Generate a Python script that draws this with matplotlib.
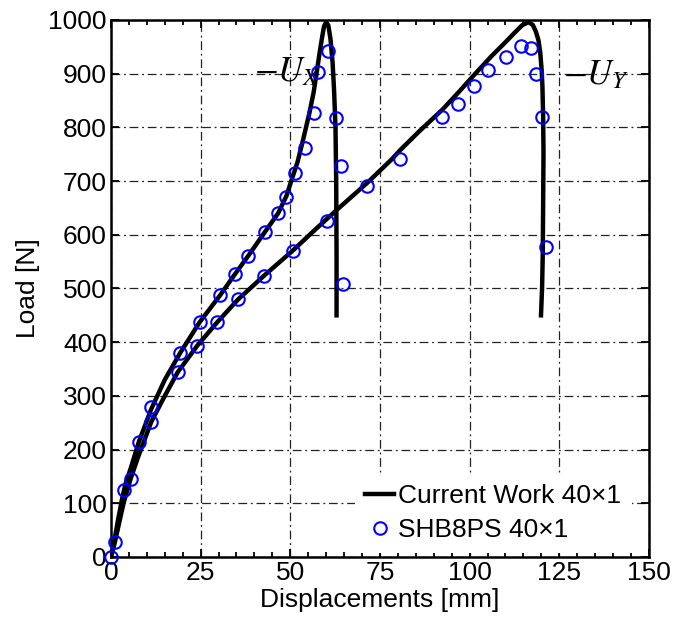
import numpy as np
import matplotlib
matplotlib.use("Agg")
import matplotlib.pyplot as plt
from matplotlib.ticker import MultipleLocator

plt.rcParams['font.family'] = ['Liberation Sans', 'DejaVu Sans']
plt.rcParams['mathtext.fontset'] = 'stix'

# current work, curve towards U_X
ux_disp = [0, 0.5, 1, 2, 3, 4, 5.5, 7.8, 11.2, 15, 19.3, 24.7, 30.5, 34.6, 38.3, 42.9,
           46.6, 48.9, 50.5, 52, 53.5, 55.3, 56.5, 57.4, 58.2, 58.8, 59.4, 60, 60.6,
           61.2, 61.8, 62.2, 62.6, 62.8, 62.9, 62.9]
ux_load = [0, 18, 32, 70, 105, 135, 165, 215, 275, 330, 380, 437, 488, 527, 561, 605,
           640, 672, 705, 735, 775, 826, 865, 904, 940, 965, 988, 996, 990,
           965, 920, 870, 800, 700, 560, 450]

# current work, curve towards U_Y
uy_disp = [0, 1, 2, 3.5, 5.5, 7.5, 11.2, 15, 18.6, 24, 29.6, 35.5, 42.7, 50.6, 57, 62.9,
           71.5, 78.2, 80.7, 86, 92.4, 97, 101.3, 106, 110.2, 112.5, 114.6, 116.4, 117.6,
           118.5, 119.2, 119.7, 120.1, 120.3, 120.5, 120.6, 120.5, 120.4, 120.2, 119.9]
uy_load = [0, 25, 55, 100, 146, 185, 251, 300, 344, 393, 437, 480, 524, 570, 610, 646,
           697, 740, 758, 793, 833, 866, 898, 932, 960, 976, 990, 996, 991,
           978, 962, 939, 905, 876, 820, 752, 660, 566, 500, 450]

# SHB8PS reference points
shb_disp = [0, 1, 3.6, 5.5, 7.8, 11.2, 11.2, 18.6, 19.3, 24.0, 24.7, 29.7, 30.5, 35.5,
            34.6, 38.3, 42.8, 42.9, 46.6, 48.9, 50.7, 51.4, 54.1, 56.5, 57.8, 60.6,
            62.7, 64.0, 64.6, 60.2, 71.5, 80.7, 92.4, 96.7, 101.3, 105.1, 110.2,
            114.4, 117.2, 118.6, 120.2, 121.4]
shb_load = [0, 27, 125, 146, 215, 251, 280, 344, 379, 393, 437, 437, 488, 480,
            527, 561, 524, 605, 640, 671, 570, 715, 762, 826, 904, 942,
            818, 729, 509, 625, 690, 741, 819, 844, 878, 906, 932,
            952, 947, 899, 819, 578]

fig = plt.figure(figsize=(6.75, 6.19), dpi=100)
ax = fig.add_axes([0.1644, 0.1002, 0.797, 0.8675])

ax.plot(ux_disp, ux_load, '-k', linewidth=3.2, label='Current Work 40\u00d71')
ax.plot(uy_disp, uy_load, '-k', linewidth=3.2)
ax.plot(shb_disp, shb_load, 'o', markersize=9, markerfacecolor='none',
        markeredgecolor='#0000ff', markeredgewidth=1.5, label='SHB8PS 40\u00d71',
        clip_on=False, zorder=5)

ax.text(40.0, 886, r'$-U_X$', fontsize=25, ha='left', va='baseline')
ax.text(126.0, 880, r'$-U_Y$', fontsize=25, ha='left', va='baseline')

ax.set_xlim(0, 150)
ax.set_ylim(0, 1000)
ax.xaxis.set_major_locator(MultipleLocator(25))
ax.xaxis.set_minor_locator(MultipleLocator(5))
ax.yaxis.set_major_locator(MultipleLocator(100))

ax.grid(True, which='major', color='#222222', linestyle=(0, (7, 3, 1.5, 3)), linewidth=0.9)
ax.tick_params(which='both', direction='in', top=True, right=True, labelsize=19, width=1.3)
ax.tick_params(which='major', length=6, pad=3)
ax.tick_params(which='minor', length=3.5)
for s in ax.spines.values():
    s.set_linewidth(1.8)

ax.set_xlabel('Displacements [mm]', fontsize=19, labelpad=2)
ax.set_ylabel('Load [N]', fontsize=19, labelpad=6)

leg = ax.legend(loc='lower right', bbox_to_anchor=(1 - 17 / 538, 4 / 537), fontsize=19,
                frameon=True, fancybox=False, edgecolor='none', framealpha=1,
                borderaxespad=0, borderpad=0.4, handlelength=1.1, handletextpad=0.15,
                labelspacing=0.4)

plt.savefig('out.png', dpi=100)
